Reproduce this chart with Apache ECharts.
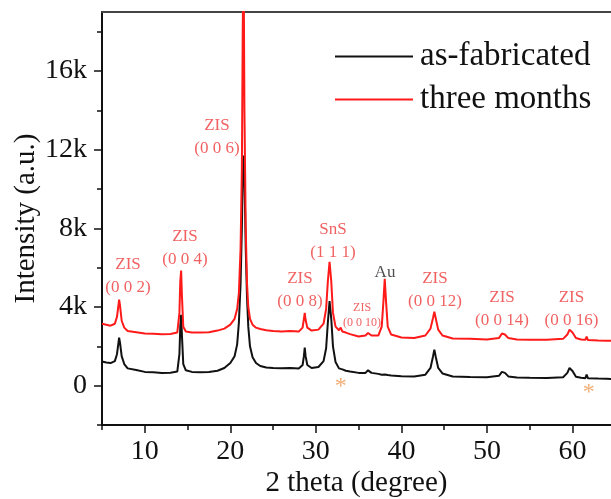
<!DOCTYPE html>
<html>
<head>
<meta charset="utf-8">
<script src="https://cdn.jsdelivr.net/npm/echarts@6/dist/echarts.min.js"></script>
<style>
html,body{margin:0;padding:0;background:#fff;}
#chart{width:611px;height:499px;}
</style>
</head>
<body>
<div id="chart"></div>
<script>
// ---- data ----
const theta = [5, 5.5, 6, 6.5, 6.75, 6.9, 7.0, 7.1, 7.3, 7.6, 8, 9, 10, 11, 12, 13, 13.8, 14.05, 14.15, 14.25, 14.35, 14.5, 14.8, 15.5, 16.5, 17.5, 18.5, 19.3, 20, 20.5, 20.8, 21.0, 21.2, 21.35, 21.45, 21.55, 21.65, 21.8, 21.95, 22.1, 22.3, 22.6, 23.0, 23.5, 24.2, 25, 26, 27, 28, 28.45, 28.6, 28.7, 28.8, 29.0, 29.5, 30.3, 30.9, 31.2, 31.4, 31.6, 31.8, 32.0, 32.3, 32.7, 32.9, 33.1, 33.5, 34, 35, 35.8, 36.1, 36.25, 36.5, 37.3, 37.7, 37.9, 38.05, 38.2, 38.4, 38.8, 40, 41.5, 42.8, 43.4, 43.7, 43.85, 44.0, 44.3, 44.8, 46, 48, 50, 51.4, 51.75, 51.9, 52.1, 52.5, 53.5, 55, 57, 58.9, 59.4, 59.65, 59.8, 60.0, 60.4, 61.0, 61.5, 61.65, 61.8, 63, 64, 65];
const asFabricated = [1230, 1180, 1150, 1250, 1600, 2100, 2440, 2200, 1500, 1100, 880, 800, 700, 680, 650, 660, 720, 1600, 3000, 3600, 2500, 1100, 780, 700, 680, 700, 760, 900, 1150, 1500, 2100, 3200, 5200, 8000, 10500, 11700, 10800, 7000, 4500, 3000, 2000, 1450, 1150, 1000, 920, 900, 880, 900, 870, 1050, 1500, 1930, 1500, 1050, 900, 950, 1250, 1900, 3200, 4300, 3400, 2000, 1200, 880, 950, 830, 760, 720, 650, 650, 780, 850, 650, 600, 560, 580, 570, 560, 540, 520, 480, 470, 560, 900, 1500, 1830, 1500, 900, 620, 470, 440, 430, 500, 700, 800, 650, 470, 420, 400, 390, 430, 650, 900, 960, 750, 450, 400, 380, 560, 380, 360, 350, 340];
const threeMonths = [3150, 3100, 3050, 3150, 3500, 4000, 4370, 4100, 3300, 2950, 2780, 2720, 2650, 2640, 2620, 2630, 2700, 3700, 5300, 5850, 4500, 3000, 2750, 2700, 2700, 2720, 2800, 2900, 3100, 3400, 3900, 4700, 7000, 11000, 18000, 22000, 14000, 8000, 5200, 4000, 3400, 3100, 2950, 2880, 2820, 2780, 2750, 2780, 2750, 2950, 3400, 3700, 3350, 2950, 2800, 2850, 3150, 3900, 5300, 6300, 5300, 3700, 3000, 2820, 2950, 2750, 2700, 2620, 2500, 2550, 2680, 2750, 2550, 2550, 3000, 4300, 5430, 4300, 3000, 2600, 2450, 2420, 2550, 2900, 3450, 3760, 3450, 2850, 2550, 2400, 2380, 2350, 2420, 2650, 2740, 2600, 2420, 2350, 2340, 2330, 2380, 2600, 2850, 2890, 2700, 2420, 2350, 2330, 2490, 2320, 2300, 2290, 2280];
const seriesNames = ['as-fabricated', 'three months'];

const peakLabelX = [8.04, 14.7, 18.44, 28.14, 32.0, 43.92, 51.76, 59.88];
const peakLabelY = [5580, 7000, 12640, 4870, 7360, 4870, 3900, 3900];
const peakLabelText = ['ZIS\n(0 0 2)', 'ZIS\n(0 0 4)', 'ZIS\n(0 0 6)', 'ZIS\n(0 0 8)', 'SnS\n(1 1 1)', 'ZIS\n(0 0 12)', 'ZIS\n(0 0 14)', 'ZIS\n(0 0 16)'];
const smallLabelX = [35.4];
const smallLabelY = [3570];
const smallLabelText = ['ZIS\n(0 0 10)'];
const auLabelX = [38.08];
const auLabelY = [5730];
const auLabelText = ['Au'];
const starX = [32.9, 61.9];
const starY = [-66, -360];

const xMajorTicks = [10, 20, 30, 40, 50, 60];
const xMinorTicks = [5, 15, 25, 35, 45, 55];
const yMajorTicks = [0, 4000, 8000, 12000, 16000];
const yMinorTicks = [-2000, 2000, 6000, 10000, 14000, 18000];

// ---- build ----
const FONT = 'Liberation Serif, DejaVu Serif, Times New Roman, serif';
const zip = (xs, ys) => xs.map((x, i) => [x, ys[i]]);
const labelData = (xs, ys, ts) => xs.map((x, i) => ({ value: [x, ys[i]], name: ts[i] }));

const chart = echarts.init(document.getElementById('chart'), null, { renderer: 'canvas' });

function labelSeries(data, color, size, lh) {
  return {
    type: 'scatter',
    data: data,
    symbolSize: 1,
    silent: true,
    z: 10,
    clip: false,
    itemStyle: { color: 'rgba(0,0,0,0)' },
    label: {
      show: true,
      position: 'inside',
      formatter: '{b}',
      color: color,
      fontFamily: FONT,
      fontSize: size,
      lineHeight: lh,
      align: 'center',
      verticalAlign: 'middle'
    },
    labelLayout: { hideOverlap: false },
    tooltip: { show: false }
  };
}

const XMIN = 5, XMAX = 64.5, YMIN = -2000, YMAX = 19000;
const axisLineStyle = { show: true, onZero: false, lineStyle: { color: '#111', width: 2 } };

const option = {
  animation: false,
  backgroundColor: '#fff',
  textStyle: { fontFamily: FONT },
  grid: { left: 102, right: 0, top: 12, bottom: 74, containLabel: false, outerBoundsMode: 'none' },
  legend: {
    data: seriesNames,
    orient: 'vertical',
    left: 330,
    top: 35,
    itemWidth: 78,
    itemHeight: 14,
    itemGap: 10,
    textStyle: { fontFamily: FONT, fontSize: 33, color: '#111', padding: [0, 0, 0, 2] },
    icon: 'path://M0,6 L78,6 L78,8 L0,8 Z'
  },
  xAxis: [{
    type: 'value',
    min: XMIN, max: XMAX,
    name: '2 theta (degree)',
    nameLocation: 'middle',
    nameGap: 44,
    nameMoveOverlap: false,
    nameTextStyle: { fontFamily: FONT, fontSize: 29, color: '#111' },
    axisLine: axisLineStyle,
    axisTick: { show: true, inside: false, length: 8, customValues: xMajorTicks, lineStyle: { color: '#111', width: 1.5 } },
    axisLabel: { fontFamily: FONT, fontSize: 28, color: '#111', margin: 13, customValues: xMajorTicks },
    splitLine: { show: false }
  }, {
    type: 'value',
    position: 'top',
    min: XMIN, max: XMAX,
    axisLine: { show: true, onZero: false, lineStyle: { color: '#444', width: 2 } },
    axisTick: { show: false },
    axisLabel: { show: false },
    splitLine: { show: false }
  }, {
    type: 'value',
    position: 'bottom',
    min: XMIN, max: XMAX,
    axisLine: axisLineStyle,
    axisTick: { show: true, inside: false, length: 5, customValues: xMinorTicks, lineStyle: { color: '#111', width: 1.5 } },
    axisLabel: { show: false },
    splitLine: { show: false }
  }],
  yAxis: [{
    type: 'value',
    min: YMIN, max: YMAX,
    name: 'Intensity (a.u.)',
    nameLocation: 'middle',
    nameGap: 61,
    nameMoveOverlap: false,
    nameTextStyle: { fontFamily: FONT, fontSize: 29, color: '#111' },
    axisLine: axisLineStyle,
    axisTick: { show: true, inside: false, length: 8, customValues: yMajorTicks, lineStyle: { color: '#111', width: 1.5 } },
    axisLabel: {
      fontFamily: FONT, fontSize: 28, color: '#111', margin: 15,
      customValues: yMajorTicks,
      formatter: v => (v === 0 ? '0' : (v / 1000) + 'k')
    },
    splitLine: { show: false }
  }, {
    type: 'value',
    position: 'left',
    min: YMIN, max: YMAX,
    axisLine: axisLineStyle,
    axisTick: { show: true, inside: false, length: 5, customValues: yMinorTicks, lineStyle: { color: '#111', width: 1.5 } },
    axisLabel: { show: false },
    splitLine: { show: false }
  }],
  series: [
    {
      name: seriesNames[0],
      type: 'line',
      data: zip(theta, asFabricated),
      showSymbol: false,
      symbol: 'none',
      clip: true,
      lineStyle: { color: '#111', width: 2 },
      itemStyle: { color: '#111' },
      z: 3
    },
    {
      name: seriesNames[1],
      type: 'line',
      data: zip(theta, threeMonths),
      showSymbol: false,
      symbol: 'none',
      clip: true,
      lineStyle: { color: '#ff1a1a', width: 2 },
      itemStyle: { color: '#ff1a1a' },
      z: 4
    },
    labelSeries(labelData(peakLabelX, peakLabelY, peakLabelText), '#ee3a3a', 17, 23),
    labelSeries(labelData(smallLabelX, smallLabelY, smallLabelText), '#ee3a3a', 12, 15),
    labelSeries(labelData(auLabelX, auLabelY, auLabelText), '#222', 17, 20),
    labelSeries(labelData(starX, starY, starX.map(() => '*')), '#ee9a55', 24, 24)
  ]
};
chart.setOption(option);
</script>
</body>
</html>
